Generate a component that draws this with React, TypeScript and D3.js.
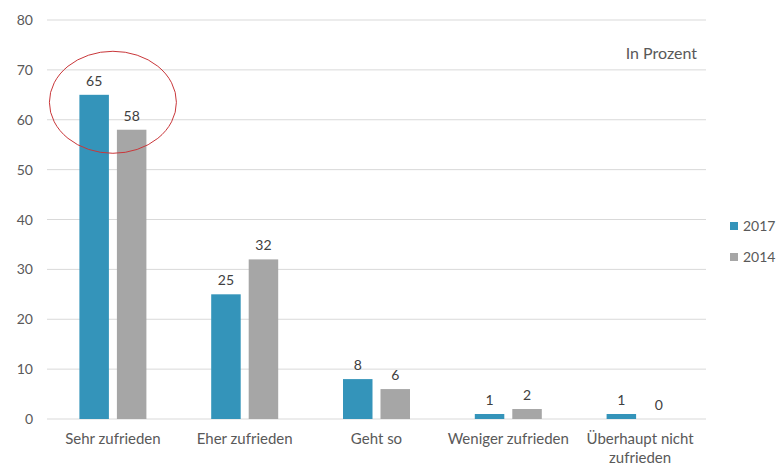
import React from "react";
import * as d3 from "d3";

const categories = ["Sehr zufrieden", "Eher zufrieden", "Geht so", "Weniger zufrieden", "Überhaupt nicht zufrieden"];
const categoryLines = [["Sehr zufrieden"], ["Eher zufrieden"], ["Geht so"], ["Weniger zufrieden"], ["Überhaupt nicht", "zufrieden"]];
const seriesNames = ["2017", "2014"];
const values2017 = [65, 25, 8, 1, 1];
const values2014 = [58, 32, 6, 2, 0];
const yTicks = [0, 10, 20, 30, 40, 50, 60, 70, 80];
const colors = ["#3494BA", "#A6A6A6"];

const W = 783, H = 466;
const left = 47, right = 706, top = 20, bottom = 419;
const font = "Lato, 'Open Sans', sans-serif";

export default function App() {
  const x = d3.scaleBand<string>().domain(categories).range([left, right]).paddingInner(0).paddingOuter(0);
  const y = d3.scaleLinear().domain([0, 80]).range([bottom, top]);
  const barW = 29.5;
  const gap = 8;
  const series = [values2017, values2014];
  const cx = (c: string) => (x(c) as number) + x.bandwidth() / 2;
  const barX = (c: string, s: number) => cx(c) - gap / 2 - barW + s * (barW + gap);

  return (
    <svg width={W} height={H} style={{ position: "absolute", left: 0, top: 0, background: "#fff" }} fontFamily={font}>
      {yTicks.map((t) => (
        <g key={t}>
          <line x1={left} x2={right} y1={y(t)} y2={y(t)} stroke="#D9D9D9" strokeWidth={1} />
          <text x={33} y={y(t) + 5} textAnchor="end" fontSize={14} fill="#595959">{t}</text>
        </g>
      ))}
      {series.map((vals, s) =>
        categories.map((c, i) => (
          <g key={`${s}-${i}`}>
            {vals[i] > 0 && (
              <rect x={barX(c, s)} y={y(vals[i])} width={barW} height={y(0) - y(vals[i])} fill={colors[s]} />
            )}
            <text x={barX(c, s) + barW / 2} y={y(vals[i]) - 9} textAnchor="middle" fontSize={14} fill="#404040">{vals[i]}</text>
          </g>
        ))
      )}
      {categories.map((c, i) => (
        <text key={c} x={cx(c)} y={444} textAnchor="middle" fontSize={15} fill="#595959">
          {categoryLines[i].map((ln, j) => (
            <tspan key={j} x={cx(c)} dy={j === 0 ? 0 : 19}>{ln}</tspan>
          ))}
        </text>
      ))}
      <text x={697} y={59} textAnchor="end" fontSize={16} fill="#595959">In Prozent</text>
      {seriesNames.map((n, s) => (
        <g key={n}>
          <rect x={730} y={222 + s * 31} width={8} height={8} fill={colors[s]} />
          <text x={743} y={231 + s * 31} fontSize={14} fill="#595959">{n}</text>
        </g>
      ))}
      <ellipse cx={cx(categories[0])} cy={y(63.5)} rx={63.5} ry={51} fill="none" stroke="#C9373A" strokeWidth={1} />
    </svg>
  );
}
